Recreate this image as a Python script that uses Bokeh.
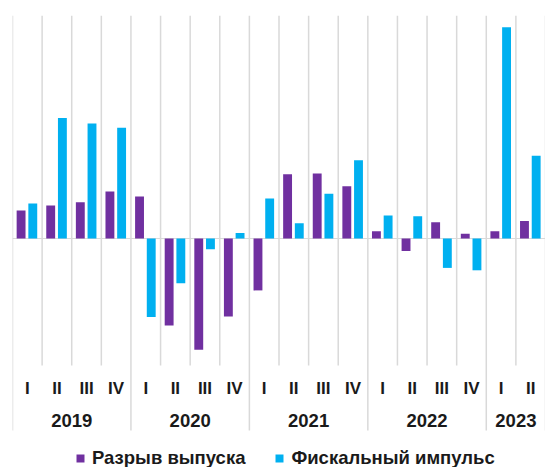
from bokeh.plotting import figure
from bokeh.models import ColumnDataSource, Range1d, Legend, LegendItem
from bokeh.core.properties import value
from bokeh.embed import file_html
from bokeh.resources import INLINE

years = ["2019", "2020", "2021", "2022", "2023"]
quarters_per_year = [4, 4, 4, 4, 2]
quarter_labels = ["I", "II", "III", "IV"] * 4 + ["I", "II"]
output_gap = [0.93, 1.10, 1.21, 1.57, 1.40, -2.90, -3.71, -2.60, -1.73,
              2.14, 2.17, 1.74, 0.24, -0.42, 0.54, 0.16, 0.24, 0.58]
fiscal_impulse = [1.17, 4.02, 3.83, 3.69, -2.62, -1.49, -0.36, 0.18, 1.33,
                  0.51, 1.49, 2.61, 0.77, 0.74, -0.98, -1.06, 7.04, 2.76]
series_names = ["Разрыв выпуска", "Фискальный импульс"]
colors = ["#7030A0", "#00B0F0"]

n = len(quarter_labels)
idx = list(range(n))
FONT = "Liberation Sans"
TXT = "#1a1a1a"
GRID = "#d9d9d9"

y_top = 7.433
y_bottom = -7.633
q_line_end = -4.233
y_line_end = -6.4
q_label_y = -5.0
y_label_y = -6.07

p = figure(width=545, height=467, output_backend="svg", toolbar_location=None,
           x_range=Range1d(0, n), y_range=Range1d(y_bottom, y_top),
           min_border_left=12, min_border_right=0, min_border_top=15, min_border_bottom=0)
p.axis.visible = False
p.grid.visible = False
p.outline_line_color = None
p.background_fill_color = "white"

# year boundaries
year_bounds = [0]
for q in quarters_per_year:
    year_bounds.append(year_bounds[-1] + q)
year_centers = [(year_bounds[i] + year_bounds[i + 1]) / 2 for i in range(len(years))]

# quarter gridlines
q_bounds = [b for b in range(n + 1) if b not in year_bounds]
p.segment(x0=q_bounds, x1=q_bounds, y0=[y_top] * len(q_bounds), y1=[q_line_end] * len(q_bounds),
          line_color=GRID, line_width=1.5)
p.segment(x0=year_bounds, x1=year_bounds, y0=[y_top] * len(year_bounds),
          y1=[y_line_end] * len(year_bounds), line_color=GRID, line_width=1.5)
# zero line
p.segment(x0=[0], x1=[n], y0=[0], y1=[0], line_color=GRID, line_width=1)

src = ColumnDataSource(dict(
    xa=[i + 0.29 for i in idx], xb=[i + 0.685 for i in idx],
    a=output_gap, b=fiscal_impulse))
r1 = p.vbar(x="xa", top="a", bottom=0, width=0.3, source=src,
            fill_color=colors[0], line_color=None)
r2 = p.vbar(x="xb", top="b", bottom=0, width=0.3, source=src,
            fill_color=colors[1], line_color=None)

p.text(x=[i + 0.5 for i in idx], y=[q_label_y] * n, text=quarter_labels,
       text_font=value(FONT), text_font_style="bold", text_font_size="17px",
       text_align="center", text_baseline="middle", text_color=TXT)
p.text(x=year_centers, y=[y_label_y] * len(years), text=years,
       text_font=value(FONT), text_font_style="bold", text_font_size="18.5px",
       text_align="center", text_baseline="middle", text_color=TXT)

legend = Legend(items=[LegendItem(label=series_names[0], renderers=[r1]),
                       LegendItem(label=series_names[1], renderers=[r2])],
                orientation="horizontal", location=(63, -2),
                glyph_width=10, glyph_height=10, label_standoff=7, spacing=29,
                padding=0, margin=0, border_line_color=None,
                background_fill_alpha=0, label_height=18,
                label_text_font=FONT, label_text_font_style="bold",
                label_text_font_size="18.5px", label_text_color=TXT)
p.add_layout(legend, "center")

open("out.html", "w").write(file_html(p, INLINE))
